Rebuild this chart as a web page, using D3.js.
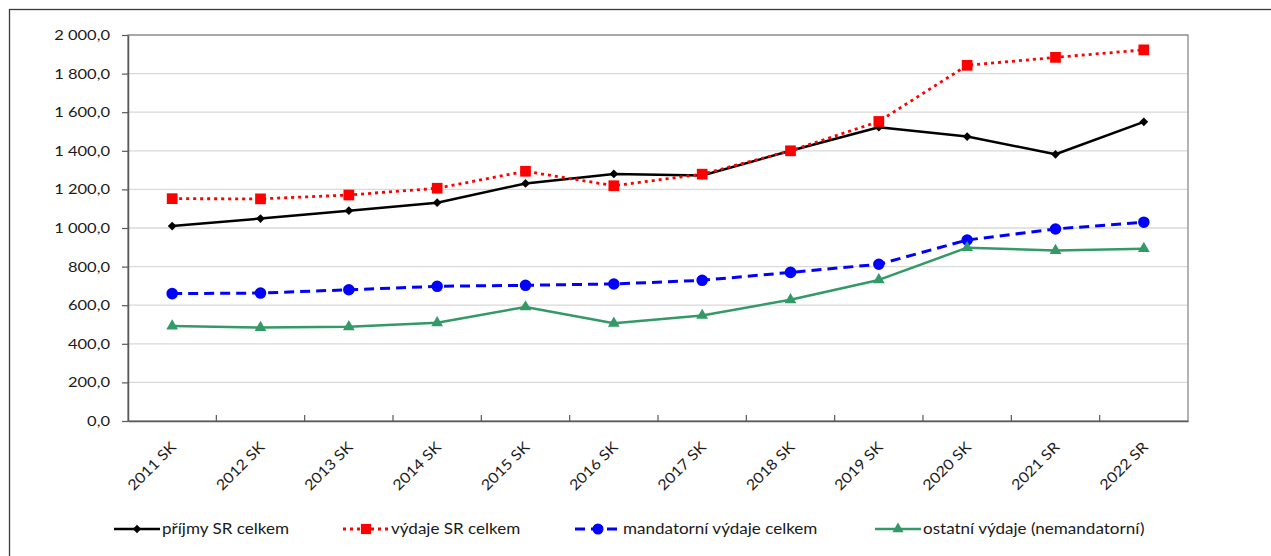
<!DOCTYPE html>
<html><head><meta charset="utf-8">
<script src="https://cdn.jsdelivr.net/npm/d3@7"></script>
<style>
html,body{margin:0;padding:0;background:#fff;}
svg{display:block;font-family:Lato,"Open Sans",sans-serif;}
</style></head>
<body>
<svg id="c" width="1271" height="556"></svg>
<script>
const categories = ["2011 SK","2012 SK","2013 SK","2014 SK","2015 SK","2016 SK","2017 SK","2018 SK","2019 SK","2020 SK","2021 SR","2022 SR"];
const prijmy = [1010,1049,1090,1131,1231,1280,1272,1400,1522,1474,1382,1550];
const vydaje = [1152,1151,1171,1206,1294,1219,1279,1400,1552,1843,1884,1923];
const mandatorni = [660,663,680,698,703,710,729,770,812,938,995,1030];
const ostatni = [492,484,488,509,591,506,547,628,731,898,883,893];
const yTicks = [0,200,400,600,800,1000,1200,1400,1600,1800,2000];
const seriesNames = ["příjmy SR celkem","výdaje SR celkem","mandatorní výdaje celkem","ostatní výdaje (nemandatorní)"];

const series = [
  {name: seriesNames[0], values: prijmy, color:"#000000", dash:null, width:2.5, marker:"diamond", size:38},
  {name: seriesNames[1], values: vydaje, color:"#ff0000", dash:"3,4", width:2.8, marker:"square", size:115},
  {name: seriesNames[2], values: mandatorni, color:"#0000ff", dash:"10,6", width:3, marker:"circle", size:105},
  {name: seriesNames[3], values: ostatni, color:"#339966", dash:null, width:2.5, marker:"triangle", size:60}
];
const symType = {diamond:d3.symbolSquare, square:d3.symbolSquare, circle:d3.symbolCircle, triangle:d3.symbolTriangle};
const symRot = {diamond:45, square:0, circle:0, triangle:0};

const svg = d3.select("#c");
// outer border
svg.append("rect").attr("x",9.5).attr("y",9.5).attr("width",1300).attr("height",600)
  .attr("fill","none").attr("stroke","#3a3a3a").attr("stroke-width",1.3);

const L=128, R=1188, T=35, B=421;
const x = d3.scaleBand().domain(categories).range([L,R]);
const y = d3.scaleLinear().domain([0,2000]).range([B,T]);
const fmt = v => d3.format(",.1f")(v).replace(/,/g," ").replace(".",",");

// gridlines
svg.append("g").selectAll("line").data(yTicks.filter(t=>t>0)).join("line")
  .attr("x1",L).attr("x2",R).attr("y1",d=>y(d)).attr("y2",d=>y(d))
  .attr("stroke","#d9d9d9").attr("stroke-width",1.3);

// plot border
svg.append("rect").attr("x",L).attr("y",T).attr("width",R-L).attr("height",B-T)
  .attr("fill","none").attr("stroke","#8a8a8a").attr("stroke-width",1.3);

// y axis
const ya = svg.append("g").attr("transform",`translate(${L},0)`)
  .call(d3.axisLeft(y).tickValues(yTicks).tickFormat(fmt).tickSize(6).tickSizeOuter(0));
ya.select(".domain").attr("stroke","#595959").attr("stroke-width",1.5);
ya.selectAll(".tick line").attr("stroke","#595959").attr("stroke-width",1.2);
ya.selectAll("text").attr("font-size","14px").attr("fill","#1a1a1a").attr("x",0)
  .attr("font-family","Lato,sans-serif")
  .attr("transform","translate(-18,0) scale(1.18,1)");

// x axis
const xa = svg.append("g").attr("transform",`translate(0,${B})`)
  .call(d3.axisBottom(x).tickSize(0).tickSizeOuter(0));
xa.select(".domain").attr("stroke","#595959").attr("stroke-width",1.5);
svg.append("g").selectAll("line").data(categories.slice(1)).join("line")
  .attr("x1",d=>x(d)).attr("x2",d=>x(d)).attr("y1",B).attr("y2",B-6)
  .attr("stroke","#595959").attr("stroke-width",1.2);
xa.selectAll(".tick text")
  .attr("font-size","14.5px").attr("fill","#1a1a1a").attr("font-family","Lato,sans-serif")
  .attr("text-anchor","end").attr("dy",0).attr("y",0)
  .attr("transform","translate(5,27) rotate(-45) scale(1.12,1)");

// lines
const cx = i => x(categories[i])+x.bandwidth()/2;
const lineGen = d3.line().x((d,i)=>cx(i)).y(d=>y(d));
series.forEach(s=>{
  svg.append("path").datum(s.values).attr("d",lineGen)
    .attr("fill","none").attr("stroke",s.color).attr("stroke-width",s.width)
    .attr("stroke-dasharray",s.dash).attr("stroke-linejoin","round");
  svg.append("g").selectAll("path").data(s.values).join("path")
    .attr("d",d3.symbol().type(symType[s.marker]).size(s.size))
    .attr("transform",(d,i)=>`translate(${cx(i)},${y(d)}) rotate(${symRot[s.marker]})`)
    .attr("fill",s.color);
});

// legend
const legX = [114,343,575,875];
const leg = svg.append("g");
series.forEach((s,i)=>{
  const g = leg.append("g").attr("transform",`translate(${legX[i]},529)`);
  g.append("line").attr("x1",0).attr("x2",46).attr("y1",0).attr("y2",0)
    .attr("stroke",s.color).attr("stroke-width",s.width).attr("stroke-dasharray",s.dash);
  g.append("path").attr("d",d3.symbol().type(symType[s.marker]).size(s.size*0.9))
    .attr("transform",`translate(23,0) rotate(${symRot[s.marker]})`).attr("fill",s.color);
  g.append("text").attr("x",0).attr("y",0).text(s.name)
    .attr("transform","translate(48,5) scale(1.1,1)")
    .attr("font-size","15.5px").attr("fill","#1a1a1a").attr("font-family","Lato,sans-serif");
});
</script>
</body></html>
